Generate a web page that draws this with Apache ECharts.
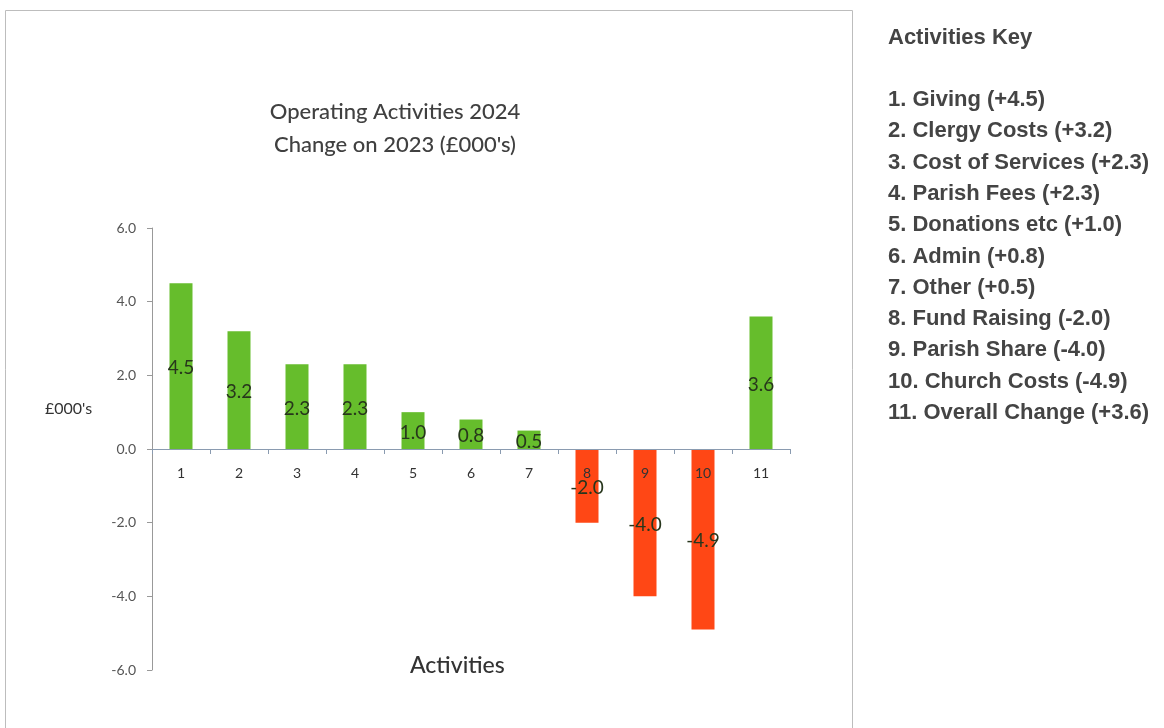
<!DOCTYPE html>
<html>
<head>
<meta charset="utf-8">
<script src="https://cdn.jsdelivr.net/npm/echarts@6/dist/echarts.min.js"></script>
<style>
  html, body { margin: 0; padding: 0; background: #fff; }
  #chart { width: 1164px; height: 728px; }
</style>
</head>
<body>
<div id="chart"></div>
<script>
// chart data
const categories = ['1', '2', '3', '4', '5', '6', '7', '8', '9', '10', '11'];
const activityNames = ['Giving', 'Clergy Costs', 'Cost of Services', 'Parish Fees', 'Donations etc',
  'Admin', 'Other', 'Fund Raising', 'Parish Share', 'Church Costs', 'Overall Change'];
const changes = [4.5, 3.2, 2.3, 2.3, 1.0, 0.8, 0.5, -2.0, -4.0, -4.9, 3.6];

const green = '#66bd2c';
const red = '#ff4715';
const labelFont = 'Lato, "Open Sans", sans-serif';
const keyFont = 'bold 22px "Liberation Sans", Arial, sans-serif';

// key on the right, one line per activity
const keyLines = activityNames.map(function (name, i) {
  const v = changes[i];
  const sign = v >= 0 ? '+' : '-';
  return (i + 1) + '. ' + name + ' (' + sign + Math.abs(v).toFixed(1) + ')';
});

const keyGraphics = keyLines.map(function (line, i) {
  return {
    type: 'text',
    left: 888,
    top: 89 + i * 31.3,
    style: { text: line, font: keyFont, fill: '#444' }
  };
});

const chart = echarts.init(document.getElementById('chart'));

chart.setOption({
  animation: false,
  title: {
    text: "Operating Activities 2024\nChange on 2023 (£000's)",
    left: 390,
    top: 90,
    textAlign: 'center',
    textStyle: {
      fontFamily: labelFont,
      fontSize: 22,
      fontWeight: 500,
      color: '#404040',
      lineHeight: 33
    }
  },
  grid: {
    left: 152,
    right: 374,
    top: 228,
    bottom: 58
  },
  xAxis: {
    type: 'category',
    data: categories,
    z: 5,
    position: 'bottom',
    offset: -221,
    axisLine: { onZero: false, lineStyle: { color: '#8a9bb0', width: 1 } },
    axisTick: { show: true, alignWithLabel: false, length: 5, lineStyle: { color: '#8a9bb0' } },
    axisLabel: {
      margin: 17,
      fontFamily: labelFont,
      fontSize: 14,
      color: '#333'
    }
  },
  yAxis: {
    type: 'value',
    min: -6,
    max: 6,
    interval: 2,
    splitLine: { show: false },
    axisLine: { show: true, lineStyle: { color: '#999' } },
    axisTick: { show: true, length: 5, lineStyle: { color: '#999' } },
    axisLabel: {
      margin: 16,
      fontFamily: labelFont,
      fontSize: 14,
      color: '#555',
      formatter: function (v) { return v.toFixed(1); }
    }
  },
  series: [
    {
      type: 'bar',
      barWidth: 23,
      data: changes.map(function (v) {
        return {
          value: v,
          itemStyle: { color: v >= 0 ? green : red }
        };
      }),
      label: {
        show: true,
        position: 'inside',
        offset: [0, 2],
        fontFamily: labelFont,
        fontSize: 19,
        color: '#27361c',
        formatter: function (p) { return p.value.toFixed(1); }
      }
    }
  ],
  graphic: [
    {
      type: 'rect',
      shape: { x: 5.5, y: 10.5, width: 847, height: 740 },
      style: { fill: 'none', stroke: '#bdbdbd', lineWidth: 1 },
      z: -1
    },
    {
      type: 'text',
      left: 45,
      top: 401,
      style: { text: "£000's", font: '16px Lato, "Open Sans", sans-serif', fill: '#333' }
    },
    {
      type: 'text',
      left: 410,
      top: 654,
      style: { text: 'Activities', font: '500 23px Lato, "Open Sans", sans-serif', fill: '#333' }
    },
    {
      type: 'text',
      left: 888,
      top: 27,
      style: { text: 'Activities Key', font: keyFont, fill: '#444' }
    }
  ].concat(keyGraphics)
});
</script>
</body>
</html>
